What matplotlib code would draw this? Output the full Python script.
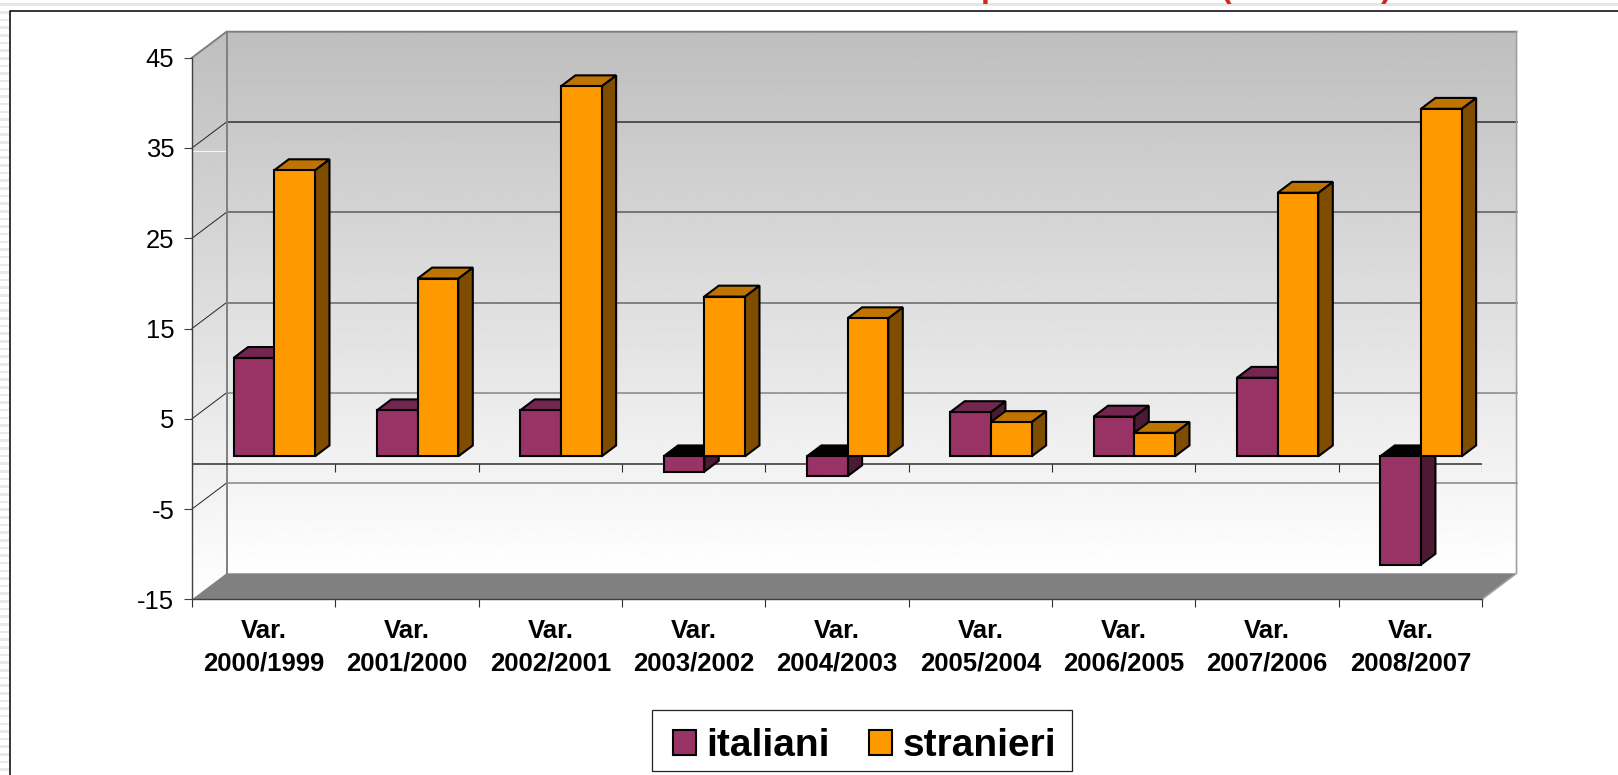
import numpy as np
import matplotlib
matplotlib.use("Agg")
import matplotlib.pyplot as plt
from matplotlib.patches import Polygon, Patch, Rectangle

plt.rcParams['font.family'] = ['Liberation Sans', 'DejaVu Sans']

categories = ['Var.\n2000/1999', 'Var.\n2001/2000', 'Var.\n2002/2001', 'Var.\n2003/2002', 'Var.\n2004/2003',
              'Var.\n2005/2004', 'Var.\n2006/2005', 'Var.\n2007/2006', 'Var.\n2008/2007']
italiani = [10.9, 5.1, 5.1, -1.7, -2.2, 4.9, 4.4, 8.7, -12.0]
stranieri = [31.7, 19.7, 41.0, 17.7, 15.3, 3.8, 2.6, 29.2, 38.5]
y_ticks = [-15, -5, 5, 15, 25, 35, 45]

W, H = 1618, 775
# 3d look: how far the back wall sits from the front plane, in data units
DX, DY = 0.241, 2.88
BAR_W = 0.284
BAR_GAP = 0.22
BAR_FRONT = 0.29   # share of the depth in front of the bars
BAR_DEPTH = 0.42

fig = plt.figure(figsize=(W / 100, H / 100), dpi=100, facecolor='white')

# slide background, in pixels
bg = fig.add_axes([0, 0, 1, 1], zorder=-1)
bg.set_xlim(0, W)
bg.set_ylim(H, 0)
bg.axis('off')
for y in np.arange(4.7, H, 7.65):
    bg.add_patch(Rectangle((0, y - 1.3), 9.5, 2.6, fc='#e9e9e9', ec='none'))
bg.add_patch(Rectangle((0, 3.3), W, 2.6, fc='#e6e6e6', ec='none'))
bg.plot([10.5, 10.5, W], [H, 10.5, 10.5], color='black', lw=1.1)
# only the bottom of the slide title is visible
for ch, x in [('p', 981), ('(', 1220), (')', 1381)]:
    bg.text(x, -3, ch, color='#d4261c', fontsize=23, fontweight='bold', va='baseline', ha='left')
# legend box
bg.add_patch(Rectangle((652.5, 710), 419.5, 61, fc='white', ec='#222222', lw=0.9))

ax = fig.add_axes([192 / W, (H - 599.3) / H, (1482 - 192) / W, (599.3 - 57.7) / H])
ax.set_xlim(0, 9)
ax.set_ylim(-15, 45)
ax.patch.set_alpha(0)
for s in ['top', 'right']:
    ax.spines[s].set_visible(False)
for s in ['left', 'bottom']:
    ax.spines[s].set_color('#404040')
    ax.spines[s].set_linewidth(1.0)
    ax.spines[s].set_zorder(2)

# walls with the grey to white gradient
grad = np.linspace(190, 255, 256).reshape(-1, 1) / 255
wall = ax.imshow(grad, extent=[DX, 9 + DX, -15 + DY, 45 + DY], origin='upper', cmap='gray', vmin=0, vmax=1,
                 aspect='auto', zorder=0, clip_on=False)
side = ax.imshow(grad, extent=[0, DX, -15, 45 + DY], origin='upper', cmap='gray', vmin=0, vmax=1,
                 aspect='auto', zorder=0)
side_poly = Polygon([(0, -15), (DX, -15 + DY), (DX, 45 + DY), (0, 45)], transform=ax.transData, fc='none', ec='none',
                    clip_on=False)
ax.add_patch(side_poly)
side.set_clip_on(True)
side.set_clip_box(fig.bbox)
side.set_clip_path(side_poly)
ax.set_xlim(0, 9)
ax.set_ylim(-15, 45)

# floor
ax.add_patch(Polygon([(0, -15), (9, -15), (9 + DX, -15 + DY), (DX, -15 + DY)], fc='#808080', ec='none',
                     zorder=1, clip_on=False))

# wall grid lines
grid_colors = {-5: '#858585', 5: '#858585', 15: '#666666', 25: '#5a5a5a', 35: '#303030'}
for v, c in grid_colors.items():
    ax.plot([DX, 9 + DX], [v + DY, v + DY], color=c, lw=1.1, zorder=1, clip_on=False)
    ax.plot([0, DX], [v, v + DY], color='#222222', lw=0.7, zorder=1, clip_on=False)
ax.plot([0, DX], [34.65, 34.65], color='white', lw=0.6, zorder=1)
ax.plot([0, DX, 9 + DX], [45, 45 + DY, 45 + DY], color='#808080', lw=1.4, zorder=1, clip_on=False)
ax.plot([DX, DX], [-15 + DY, 45 + DY], color='#808080', lw=1.4, zorder=1, clip_on=False)
ax.plot([9, 9 + DX, 9 + DX], [-15, -15 + DY, 45 + DY], color='#a0a0a0', lw=1.2, zorder=1, clip_on=False)

# zero line of the category axis
ax.plot([0, 9], [0, 0], color='#303030', lw=1.1, zorder=2)
ax.vlines(np.arange(10), -0.95, 0, color='#303030', lw=0.8, zorder=2)


def bar3d(x, v, front, top, right, z):
    x0 = x + BAR_FRONT * DX
    x1 = x0 + BAR_W
    b = BAR_FRONT * DY
    ddx, ddy = BAR_DEPTH * DX, BAR_DEPTH * DY
    hi = max(v, 0) + b
    lo = min(v, 0) + b
    ec = dict(ec='black', lw=1.5, joinstyle='miter', zorder=z, clip_on=False)
    ax.add_patch(Polygon([(x1, lo), (x1 + ddx, lo + ddy), (x1 + ddx, hi + ddy), (x1, hi)], fc=right, **ec))
    ax.add_patch(Polygon([(x0, hi), (x1, hi), (x1 + ddx, hi + ddy), (x0 + ddx, hi + ddy)], fc=top, **ec))
    ax.add_patch(Rectangle((x0, lo), BAR_W, hi - lo, fc=front, **ec))


z = 3
for i in range(len(categories)):
    top_col = '#732650' if italiani[i] >= 0 else '#000000'
    bar3d(i + BAR_GAP, italiani[i], '#993366', top_col, '#4d1a33', z)
    z += 1
    bar3d(i + BAR_GAP + BAR_W, stranieri[i], '#ff9900', '#bf7300', '#804d00', z)
    z += 1

ax.set_yticks(y_ticks)
ax.set_yticklabels([str(v) for v in y_ticks], fontsize=18.4)
ax.tick_params(axis='y', length=5.8, width=0.8, color='#404040', pad=7)
ax.set_xticks(np.arange(10))
ax.set_xticklabels([])
ax.tick_params(axis='x', which='major', length=5.8, width=0.8, color='#303030')
ax.set_xticks(np.arange(9) + 0.5, minor=True)
ax.set_xticklabels(categories, minor=True, fontsize=18.5, fontweight='bold', linespacing=1.46)
ax.tick_params(axis='x', which='minor', length=0, pad=14)

handles = [Patch(fc='#993366', ec='black', lw=1.5), Patch(fc='#ff9900', ec='black', lw=1.5)]
leg = fig.legend(handles, ['italiani', 'stranieri'], loc='center', bbox_to_anchor=(864.5 / W, (H - 746) / H),
                 ncol=2, frameon=False, prop={'size': 28, 'weight': 'bold'}, handlelength=0.6, handleheight=0.6,
                 handletextpad=0.27, columnspacing=1.0, borderpad=0, borderaxespad=0)

fig.savefig('out.png', dpi=100)
